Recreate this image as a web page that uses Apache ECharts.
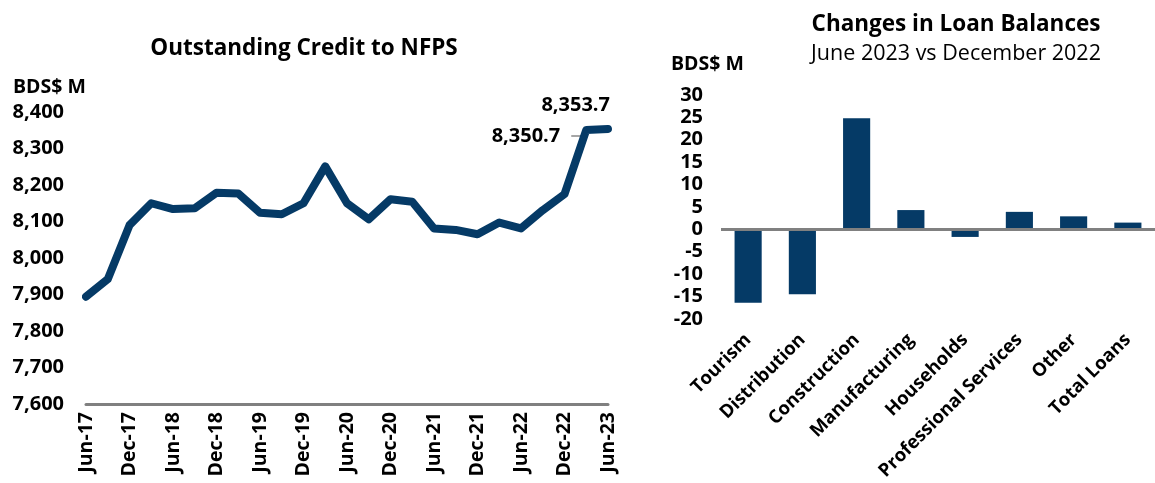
<!DOCTYPE html>
<html>
<head>
<meta charset="utf-8">
<script src="https://cdn.jsdelivr.net/npm/echarts@6/dist/echarts.min.js"></script>
<style>
  html, body { margin: 0; padding: 0; background: #fff; }
  #chart { width: 1155px; height: 483px; }
</style>
</head>
<body>
<div id="chart"></div>
<script>
// left chart: quarterly outstanding credit to NFPS (BDS$ M)
var quarters = ['Jun-17','Sep-17','Dec-17','Mar-18','Jun-18','Sep-18','Dec-18','Mar-19','Jun-19','Sep-19',
  'Dec-19','Mar-20','Jun-20','Sep-20','Dec-20','Mar-21','Jun-21','Sep-21','Dec-21','Mar-22',
  'Jun-22','Sep-22','Dec-22','Mar-23','Jun-23'];
var credit = [7894, 7942, 8090, 8150, 8134, 8136, 8179, 8177, 8124, 8120,
  8150, 8251, 8150, 8106, 8161, 8154, 8081, 8077, 8065, 8097,
  8081, 8131, 8175, 8350.7, 8353.7];

// right chart: changes in loan balances, Jun 2023 vs Dec 2022
var sectors = ['Tourism','Distribution','Construction','Manufacturing','Households','Professional Services','Other','Total Loans'];
var changes = [-16.4, -14.5, 24.8, 4.3, -1.7, 3.9, 2.9, 1.5];

var navy = '#053a66';
var font = 'Open Sans';

function fmt(v){
  var s = v.toFixed(1).split('.');
  return s[0].replace(/\B(?=(\d{3})+(?!\d))/g, ',') + '.' + s[1];
}

var last = credit.length - 1;
var creditData = credit.map(function(v, i){
  if (i === last - 1) {
    return {value: v, label: {show: true, position: 'left', distance: 26, offset: [0, 6], formatter: fmt(v)}};
  }
  if (i === last) {
    return {value: v, label: {show: true, position: 'top', distance: 14, align: 'right', offset: [2, 0], formatter: fmt(v)}};
  }
  return v;
});

var chart = echarts.init(document.getElementById('chart'));
chart.setOption({
  animation: false,
  textStyle: {fontFamily: font},
  title: [
    {text: 'Outstanding Credit to NFPS', left: 299, top: 32, textAlign: 'center',
      textStyle: {fontFamily: font, fontWeight: 'bold', fontSize: 22.5, color: '#000'}},
    {text: 'BDS$ M', left: 8, top: 72, textStyle: {fontFamily: font, fontWeight: 'bold', fontSize: 19.5, color: '#000'}},
    {text: 'Changes in Loan Balances', subtext: 'June 2023 vs December 2022', left: 951, top: 8, textAlign: 'center', itemGap: 7,
      textStyle: {fontFamily: font, fontWeight: 'bold', fontSize: 22.5, color: '#000'},
      subtextStyle: {fontFamily: font, fontSize: 21.5, color: '#000'}},
    {text: 'BDS$ M', left: 666, top: 49, textStyle: {fontFamily: font, fontWeight: 'bold', fontSize: 19.5, color: '#000'}}
  ],
  grid: [
    {left: 86, right: 547, top: 112, bottom: 79},
    {left: 721, right: -11, top: 95, bottom: 158}
  ],
  xAxis: [
    {gridIndex: 0, type: 'category', data: quarters, boundaryGap: false,
      axisLine: {lineStyle: {color: '#808080', width: 3}},
      axisTick: {show: false},
      axisLabel: {interval: 1, rotate: 90, margin: 8, color: '#000', fontWeight: 'bold', fontSize: 19.5, fontFamily: font}},
    {gridIndex: 1, type: 'category', data: sectors,
      axisLine: {show: false, onZero: false},
      axisTick: {show: false},
      axisLabel: {interval: 0, rotate: 45, margin: 18, color: '#000', fontWeight: 'bold', fontSize: 18.5, fontFamily: font}}
  ],
  yAxis: [
    {gridIndex: 0, type: 'value', min: 7600, max: 8400, interval: 100,
      splitLine: {show: false}, axisLine: {show: false}, axisTick: {show: false},
      axisLabel: {margin: 22, color: '#000', fontWeight: 'bold', fontSize: 20, fontFamily: font,
        formatter: function(v){ return v.toLocaleString('en-US'); }}},
    {gridIndex: 1, type: 'value', min: -20, max: 30, interval: 5,
      splitLine: {show: false}, axisLine: {show: false}, axisTick: {show: false},
      axisLabel: {margin: 18, color: '#000', fontWeight: 'bold', fontSize: 20, fontFamily: font}}
  ],
  series: [
    {type: 'line', xAxisIndex: 0, yAxisIndex: 0, data: creditData,
      symbol: 'circle', symbolSize: 0, showSymbol: true,
      lineStyle: {color: navy, width: 8, cap: 'round', join: 'round'},
      itemStyle: {color: navy},
      label: {color: '#000', fontWeight: 'bold', fontSize: 20, fontFamily: font}},
    {type: 'bar', xAxisIndex: 1, yAxisIndex: 1, data: changes, barWidth: '50%',
      itemStyle: {color: navy},
      markLine: {silent: true, symbol: 'none', label: {show: false},
        lineStyle: {color: '#808080', width: 3, type: 'solid'},
        data: [{yAxis: 0}]}}
  ]
});

// short grey leader from the 8,350.7 label to its point
var pt = chart.convertToPixel({gridIndex: 0}, [quarters[last - 1], credit[last - 1]]);
chart.setOption({
  graphic: [{type: 'polyline', z: 1, silent: true,
    shape: {points: [[pt[0] - 15, pt[1] + 6], [pt[0] - 4, pt[1] + 6], [pt[0], pt[1]]]},
    style: {stroke: '#a6a6a6', lineWidth: 2, fill: null}}]
});
</script>
</body>
</html>
